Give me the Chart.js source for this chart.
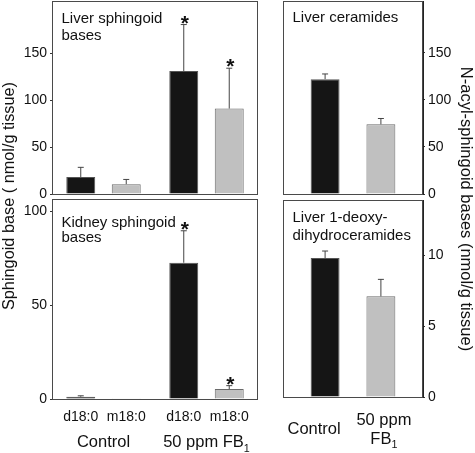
<!DOCTYPE html>
<html>
<head>
<meta charset="utf-8">
<script src="https://cdn.jsdelivr.net/npm/chart.js@4/dist/chart.umd.min.js"></script>
<style>
  body { margin: 0; background: #fff; width: 475px; height: 453px; position: relative; overflow: hidden; }
  canvas { position: absolute; }
  .ytitle { position: absolute; width: 400px; height: 20px; line-height: 20px; text-align: center; white-space: nowrap; color: #111;
            font-family: "Liberation Sans", Arial, sans-serif; font-size: 16.5px; }
</style>
</head>
<body>
<canvas id="liverBases" width="262" height="221" style="left:0;top:-13px"></canvas>
<canvas id="kidneyBases" width="262" height="268" style="left:0;top:185px"></canvas>
<canvas id="liverCer" width="213" height="221" style="left:262px;top:-13px"></canvas>
<canvas id="liverDeoxy" width="213" height="267" style="left:262px;top:186px"></canvas>
<div class="ytitle" style="left:-192px;top:186px;font-size:16.3px;transform:rotate(-90deg)">Sphingoid base ( nmol/g tissue)</div>
<div class="ytitle" style="left:267px;top:199px;transform:rotate(90deg)">N-acyl-sphingoid bases (nmol/g tissue)</div>
<script>
// data
const groups = ['Control', '50 ppm FB₁'];
const baseTypes = ['d18:0', 'm18:0'];
const treatments = ['Control', '50 ppm FB₁'];

const liverD18 = [18, 131];
const liverD18Err = [10.4, 49.5];
const liverM18 = [10.5, 91];
const liverM18Err = [5, 43];
const liverSig = [false, true];

const kidneyD18 = [1.2, 72.5];
const kidneyD18Err = [0.5, 17];
const kidneyM18 = [0.4, 5.3];
const kidneyM18Err = [0, 1.8];
const kidneySig = [false, true];

const ceramides = [122, 74];
const ceramidesErr = [5.5, 6.2];
const deoxyCer = [9.8, 7.1];
const deoxyCerErr = [0.5, 1.2];

const liverTicks = [0, 50, 100, 150];
const kidneyTicks = [0, 50, 100];
const ceramideTicks = [0, 50, 100, 150];
const deoxyTicks = [0, 5, 10];

const FONT = '"Liberation Sans", Arial, sans-serif';
const BLACK = '#151515';
const GRAY = '#c0c0c0';
const TEXT = '#111';

// centered text, a trailing ₁ is drawn as a real subscript
function subText(ctx, text, x, y, size) {
  const sub = text.endsWith('₁');
  const main = sub ? text.slice(0, -1) : text;
  ctx.font = size + 'px ' + FONT;
  const w1 = ctx.measureText(main).width;
  let w2 = 0;
  if (sub) {
    ctx.font = (size * 0.65) + 'px ' + FONT;
    w2 = ctx.measureText('1').width;
  }
  const x0 = x - (w1 + w2) / 2;
  ctx.textAlign = 'left';
  ctx.font = size + 'px ' + FONT;
  ctx.fillText(main, x0, y);
  if (sub) {
    ctx.font = (size * 0.65) + 'px ' + FONT;
    ctx.fillText('1', x0 + w1, y + size * 0.3);
  }
}

const panelPlugin = {
  id: 'panel',
  afterDatasetsDraw(chart, args, o) {
    const { ctx, chartArea: a, scales: { x, y } } = chart;
    ctx.save();
    ctx.strokeStyle = '#4a4a4a';
    ctx.lineWidth = 1;
    ctx.strokeRect(a.left + 0.5, a.top + 0.5, a.right - a.left - 1, a.bottom - a.top);

    ctx.fillStyle = TEXT;
    ctx.textBaseline = 'alphabetic';
    ctx.textAlign = 'left';
    ctx.font = '15px ' + FONT;
    o.title.forEach((line, k) => ctx.fillText(line, a.left + 9.5, a.top + o.titleY[k]));

    chart.data.datasets.forEach((ds, i) => {
      const meta = chart.getDatasetMeta(i);
      meta.data.forEach((bar, j) => {
        const e = o.errs[i][j];
        const top = y.getPixelForValue(ds.data[j] + e);
        if (e > 0) {
          ctx.strokeStyle = '#444';
          ctx.beginPath();
          ctx.moveTo(bar.x, bar.y);
          ctx.lineTo(bar.x, top);
          ctx.moveTo(bar.x - 3, top);
          ctx.lineTo(bar.x + 3, top);
          ctx.stroke();
        }
        if (o.sig && o.sig[i][j]) {
          ctx.fillStyle = TEXT;
          ctx.textAlign = 'center';
          ctx.font = 'bold 21px ' + FONT;
          ctx.fillText('*', bar.x + 1, top + 5);
        }
        if (o.barLabels) {
          ctx.fillStyle = TEXT;
          const lines = o.wrap ? ds.label.replace(/ (?=\S+$)/, '\n').split('\n') : [ds.label];
          const dx = o.labelDx ? o.labelDx[i] : 0;
          const y0 = a.bottom + o.barLabelY - (lines.length - 1) * 19 / 2;
          lines.forEach((ln, k) => subText(ctx, ln, bar.x + dx, y0 + k * 19, o.barLabelSize));
        }
      });
    });

    if (o.groupLabels) {
      ctx.fillStyle = TEXT;
      chart.data.labels.forEach((lab, j) => subText(ctx, lab, x.getPixelForValue(j), a.bottom + o.groupY, 16.5));
    }
    ctx.restore();
  }
};

function makePanel(id, o) {
  return new Chart(document.getElementById(id), {
    type: 'bar',
    data: { labels: o.labels, datasets: o.datasets },
    options: {
      responsive: false,
      animation: false,
      layout: { padding: o.padding },
      datasets: { bar: { categoryPercentage: o.catPct, barPercentage: o.barPct, borderWidth: 1 } },
      plugins: { legend: { display: false }, tooltip: { enabled: false }, panel: o.panel },
      scales: {
        x: { display: false },
        y: {
          position: o.side,
          min: 0,
          max: o.max,
          afterFit: s => { s.width = 52; },
          afterBuildTicks: s => { s.ticks = o.ticks.map(v => ({ value: v })); },
          grid: { drawOnChartArea: false, tickLength: 2, color: '#333' },
          border: { color: '#222' },
          ticks: { font: { family: FONT, size: 14 }, color: TEXT, padding: 3 }
        }
      }
    },
    plugins: [panelPlugin]
  });
}

const baseColors = [BLACK, GRAY];
const baseBorders = ['#555', '#6a6a6a'];

makePanel('liverBases', {
  labels: groups,
  datasets: baseTypes.map((t, i) => ({ label: t, data: [liverD18, liverM18][i], backgroundColor: baseColors[i], borderColor: baseBorders[i] })),
  padding: { top: 14, bottom: 14, left: 0, right: 4 },
  catPct: 0.883, barPct: 0.637,
  side: 'left', max: 205.6, ticks: liverTicks,
  panel: { title: ['Liver sphingoid', 'bases'], titleY: [22, 38.5], errs: [liverD18Err, liverM18Err], sig: [liverSig, liverSig] }
});

makePanel('kidneyBases', {
  labels: groups,
  datasets: baseTypes.map((t, i) => ({ label: t, data: [kidneyD18, kidneyM18][i], backgroundColor: baseColors[i], borderColor: baseBorders[i] })),
  padding: { top: 14, bottom: 54, left: 0, right: 4 },
  catPct: 0.883, barPct: 0.637,
  side: 'left', max: 106.4, ticks: kidneyTicks,
  panel: { title: ['Kidney sphingoid', 'bases'], titleY: [27.5, 42.7], errs: [kidneyD18Err, kidneyM18Err], sig: [kidneySig, kidneySig],
    barLabels: true, barLabelY: 21.5, barLabelSize: 14, groupLabels: true, groupY: 47.7 }
});

makePanel('liverCer', {
  labels: [''],
  datasets: treatments.map((t, i) => ({ label: t, data: [ceramides[i]], backgroundColor: baseColors[i], borderColor: baseBorders[i] })),
  padding: { top: 14, bottom: 14, left: 21, right: 0 },
  catPct: 0.797, barPct: 0.518,
  side: 'right', max: 205, ticks: ceramideTicks,
  panel: { title: ['Liver ceramides'], titleY: [20.5], errs: [[ceramidesErr[0]], [ceramidesErr[1]]] }
});

makePanel('liverDeoxy', {
  labels: [''],
  datasets: treatments.map((t, i) => ({ label: t, data: [deoxyCer[i]], backgroundColor: baseColors[i], borderColor: baseBorders[i] })),
  padding: { top: 14, bottom: 56, left: 21, right: 0 },
  catPct: 0.797, barPct: 0.518,
  side: 'right', max: 13.9, ticks: deoxyTicks,
  panel: { title: ['Liver 1-deoxy-', 'dihydroceramides'], titleY: [22, 39.5], errs: [[deoxyCerErr[0]], [deoxyCerErr[1]]],
    barLabels: true, wrap: true, labelDx: [-11, 3], barLabelY: 37, barLabelSize: 16.5 }
});
</script>
</body>
</html>
